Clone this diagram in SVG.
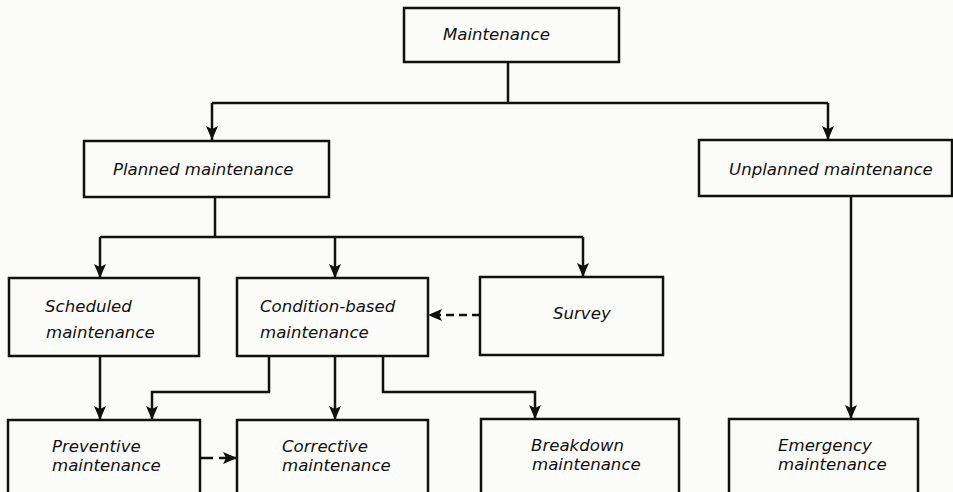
<svg xmlns="http://www.w3.org/2000/svg" width="953" height="492" viewBox="0 0 953 492">
<defs>
<style>
.box{fill:none;stroke:#111;stroke-width:2.5}
.ln{fill:none;stroke:#111;stroke-width:2.5}
.dash{fill:none;stroke:#111;stroke-width:2.5;stroke-dasharray:8 5}
text{font-family:"DejaVu Sans","Liberation Sans",sans-serif;font-style:italic;font-size:16.6px;fill:#111}
</style>
<marker id="ah" markerUnits="userSpaceOnUse" markerWidth="15" markerHeight="12" refX="14" refY="6" orient="auto">
<path d="M0,0 L14,6 L0,12 L3,6 z" fill="#111"/>
</marker>
</defs>
<rect width="953" height="492" fill="#fbfbf9"/>
<g id="connectors">
<path class="ln" d="M508,62 V103"/>
<path class="ln" d="M212,103 H828"/>
<path class="ln" d="M212,103 V140" marker-end="url(#ah)"/>
<path class="ln" d="M828,103 V140" marker-end="url(#ah)"/>
<path class="ln" d="M215,197 V237"/>
<path class="ln" d="M100,237 H583"/>
<path class="ln" d="M100,237 V278" marker-end="url(#ah)"/>
<path class="ln" d="M335,237 V278" marker-end="url(#ah)"/>
<path class="ln" d="M583,237 V277" marker-end="url(#ah)"/>
<path class="ln" d="M100,356 V420" marker-end="url(#ah)"/>
<path class="ln" d="M269,356 V392 H152 V420" marker-end="url(#ah)"/>
<path class="ln" d="M335,356 V420" marker-end="url(#ah)"/>
<path class="ln" d="M383,356 V392 H535 V419" marker-end="url(#ah)"/>
<path class="ln" d="M851,196 V419" marker-end="url(#ah)"/>
<path class="dash" d="M480,315 H428" marker-end="url(#ah)"/>
<path class="ln" d="M200,458 H213"/>
<path class="ln" d="M219,458 H237" marker-end="url(#ah)"/>
</g>
<g id="maintenance"><rect class="box" x="404" y="8" width="215" height="54"/><text x="443" y="40">Maintenance</text></g>
<g id="planned"><rect class="box" x="84" y="141" width="245" height="56"/><text x="113" y="175">Planned maintenance</text></g>
<g id="unplanned"><rect class="box" x="699" y="140" width="253" height="56"/><text x="729" y="175">Unplanned maintenance</text></g>
<g id="scheduled"><rect class="box" x="9" y="278" width="190" height="78"/><text x="45" y="312">Scheduled</text><text x="46" y="338">maintenance</text></g>
<g id="condition"><rect class="box" x="237" y="278" width="191" height="78"/><text x="260" y="312">Condition-based</text><text x="260" y="338">maintenance</text></g>
<g id="survey"><rect class="box" x="480" y="277" width="183" height="78"/><text x="553" y="319">Survey</text></g>
<g id="preventive"><rect class="box" x="8" y="420" width="192" height="90"/><text x="52" y="452">Preventive</text><text x="52" y="471">maintenance</text></g>
<g id="corrective"><rect class="box" x="237" y="420" width="191" height="90"/><text x="282" y="452">Corrective</text><text x="282" y="471">maintenance</text></g>
<g id="breakdown"><rect class="box" x="481" y="419" width="198" height="90"/><text x="531" y="451">Breakdown</text><text x="532" y="470">maintenance</text></g>
<g id="emergency"><rect class="box" x="729" y="419" width="189" height="90"/><text x="778" y="451">Emergency</text><text x="778" y="470">maintenance</text></g>
</svg>
